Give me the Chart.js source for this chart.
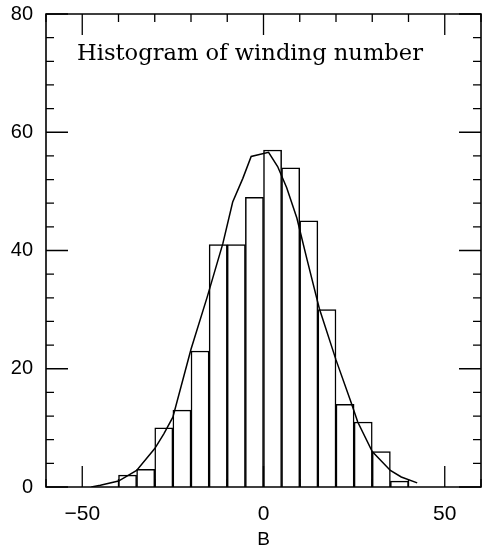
<!DOCTYPE html>
<html>
<head>
<meta charset="utf-8">
<script src="https://cdn.jsdelivr.net/npm/chart.js@4"></script>
<style>
  html, body { margin: 0; padding: 0; background: #fff; }
  canvas { display: block; }
</style>
</head>
<body>
<canvas id="c" width="482" height="548"></canvas>
<script>
// ---- data ----
const binStarts = [-40, -35, -30, -25, -20, -15, -10, -5, 0, 5, 10, 15, 20, 25, 30, 35];
const binWidth = 5;
const counts = [2, 3, 10, 13, 23, 41, 41, 49, 57, 54, 45, 30, 14, 11, 6, 1];

const curveX = [-47.5, -45, -40, -35, -30, -27.5, -25, -20, -15.5, -11.2, -8.5, -5.7, -3.4, 1.4, 3.9, 6.4, 9.2, 12, 15.4, 20, 24.1, 26, 30, 35, 38, 42.4];
const curveY = [0, 0.3, 1.0, 2.8, 6.5, 9, 11.8, 23.3, 32.2, 41.2, 48.2, 52.2, 55.9, 56.6, 54.2, 50.6, 45.5, 38.5, 30.2, 21.5, 14.4, 11, 6, 2.8, 1.7, 0.7];

const xTickLabels = [-50, 0, 50];
const yTickLabels = [0, 20, 40, 60, 80];
const xMinorStep = 10;
const yMinorStep = 4;

const titleText = "Histogram of winding number";
const xAxisTitle = "B";

// ---- build datasets ----
const barData = binStarts.map((s, i) => ({ x: s + binWidth / 2, y: counts[i] }));
const lineData = curveX.map((x, i) => ({ x: x, y: curveY[i] }));

const fmt = v => (v < 0 ? '\u2212' + Math.abs(v) : String(v));

const framePlugin = {
  id: 'frame',
  afterDatasetsDraw(chart) {
    const { ctx, chartArea: a, scales: { x, y } } = chart;
    ctx.save();
    ctx.strokeStyle = '#000';
    ctx.lineWidth = 1.6;
    ctx.beginPath();
    ctx.rect(a.left, a.top, a.right - a.left, a.bottom - a.top);
    ctx.stroke();
    ctx.lineWidth = 1.3;
    ctx.beginPath();
    // x ticks (top and bottom), inward
    for (let v = x.min; v <= x.max + 1e-9; v += xMinorStep) {
      const px = x.getPixelForValue(v);
      const major = xTickLabels.includes(v);
      const len = major ? 21 : 8;
      ctx.moveTo(px, a.bottom); ctx.lineTo(px, a.bottom - len);
      ctx.moveTo(px, a.top); ctx.lineTo(px, a.top + len);
    }
    // y ticks (left and right), inward
    for (let v = y.min; v <= y.max + 1e-9; v += yMinorStep) {
      const py = y.getPixelForValue(v);
      const major = yTickLabels.includes(v);
      const len = major ? 22 : 8;
      ctx.moveTo(a.left, py); ctx.lineTo(a.left + len, py);
      ctx.moveTo(a.right, py); ctx.lineTo(a.right - len, py);
    }
    ctx.stroke();
    // title inside the plot
    ctx.fillStyle = '#000';
    ctx.font = '23px "DejaVu Serif"';
    ctx.textBaseline = 'alphabetic';
    ctx.textAlign = 'left';
    ctx.fillText(titleText, 77, 60, 346);
    ctx.restore();
  }
};

new Chart(document.getElementById('c'), {
  type: 'bar',
  data: {
    datasets: [
      {
        type: 'line',
        data: lineData,
        borderColor: '#000',
        borderWidth: 1.5,
        pointRadius: 0,
        tension: 0,
        fill: false,
        order: 0
      },
      {
        type: 'bar',
        data: barData,
        backgroundColor: '#fff',
        borderColor: '#000',
        borderWidth: 1.5,
        barPercentage: 1,
        categoryPercentage: 1,
        order: 1
      }
    ]
  },
  options: {
    responsive: false,
    animation: false,
    devicePixelRatio: 1,
    layout: { padding: { top: 14, right: 1, left: 0, bottom: 0 } },
    plugins: { legend: { display: false }, tooltip: { enabled: false }, title: { display: false } },
    scales: {
      x: {
        type: 'linear',
        min: -60,
        max: 60,
        offset: false,
        grid: { display: false, drawTicks: false },
        border: { display: false },
        afterBuildTicks: s => { s.ticks = xTickLabels.map(v => ({ value: v })); },
        afterFit: s => { s.height = 61; s.paddingLeft = 0; s.paddingRight = 0; },
        ticks: {
          color: '#000',
          padding: 15,
          maxRotation: 0,
          autoSkip: false,
          font: { family: '"Liberation Sans", Arial, sans-serif', size: 21 },
          callback: v => fmt(v)
        },
        title: {
          display: true,
          text: xAxisTitle,
          color: '#000',
          font: { family: '"Liberation Sans", Arial, sans-serif', size: 19 },
          padding: { top: 0, bottom: -3 }
        }
      },
      y: {
        min: 0,
        max: 80,
        grid: { display: false, drawTicks: false },
        border: { display: false },
        afterBuildTicks: s => { s.ticks = yTickLabels.map(v => ({ value: v })); },
        afterFit: s => { s.width = 46; s.paddingTop = 0; s.paddingBottom = 0; },
        ticks: {
          color: '#000',
          padding: 13,
          autoSkip: false,
          font: { family: '"Liberation Sans", Arial, sans-serif', size: 20 },
          callback: v => fmt(v)
        }
      }
    }
  },
  plugins: [framePlugin]
});
</script>
</body>
</html>
